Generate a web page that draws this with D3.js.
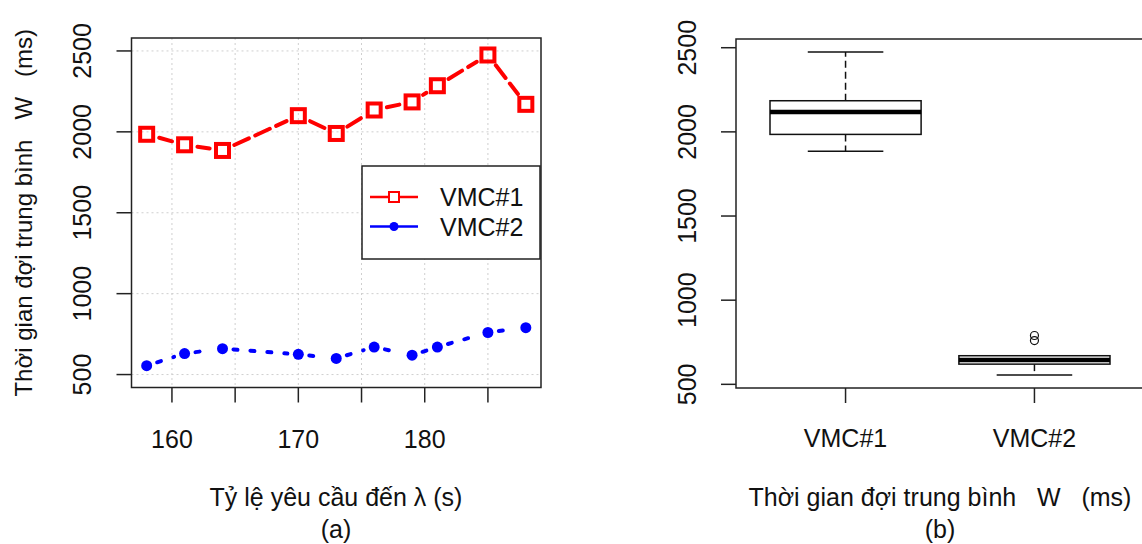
<!DOCTYPE html>
<html>
<head>
<meta charset="utf-8">
<script src="https://cdn.jsdelivr.net/npm/d3@7"></script>
<style>
  body { margin: 0; background: #fff; }
  svg { display: block; font-family: "Liberation Sans", Arial, sans-serif; }
  text { fill: #111; white-space: pre; }
</style>
</head>
<body>
<div id="chart"></div>
<script>
// Datos
const lambda = [158, 161, 164, 170, 173, 176, 179, 181, 185, 188];
const vmc1 = [1985, 1920, 1885, 2100, 1990, 2135, 2185, 2285, 2475, 2170];
const vmc2 = [555, 630, 660, 625, 600, 670, 620, 670, 760, 790];
const grupos = ["VMC#1", "VMC#2"];
const yTicks = [500, 1000, 1500, 2000, 2500];
const xTicks = [160, 165, 170, 175, 180, 185];
const xTickLabels = ["160", "", "170", "", "180", ""];
const tituloY = "Thời gian đợi trung bình   W   (ms)";
const tituloX = "Tỷ lệ yêu cầu đến λ (s)";

const width = 1142, height = 544;
const fs = 25;

const svg = d3.select("#chart").append("svg")
    .attr("width", width)
    .attr("height", height);

// ---------- Panel (a): líneas ----------
const x = d3.scaleLinear().domain([156.8, 189.2]).range([131.5, 541]);
const y = d3.scaleLinear().domain([420, 2580]).range([387.5, 38]);

const gA = svg.append("g");

// rejilla punteada
gA.selectAll(".gx").data(xTicks).enter().append("line")
    .attr("x1", d => x(d)).attr("x2", d => x(d))
    .attr("y1", y.range()[1]).attr("y2", y.range()[0])
    .attr("stroke", "#cfcfcf").attr("stroke-dasharray", "2,3");
gA.selectAll(".gy").data(yTicks).enter().append("line")
    .attr("x1", x.range()[0]).attr("x2", x.range()[1])
    .attr("y1", d => y(d)).attr("y2", d => y(d))
    .attr("stroke", "#cfcfcf").attr("stroke-dasharray", "2,3");

// segmentos con hueco alrededor de los puntos (tipo "b" de R)
function segmentos(xs, ys, gap) {
    const out = [];
    for (let i = 0; i < xs.length - 1; i++) {
        const x0 = x(xs[i]), y0 = y(ys[i]), x1 = x(xs[i + 1]), y1 = y(ys[i + 1]);
        const L = Math.hypot(x1 - x0, y1 - y0);
        if (L <= 2 * gap) continue;
        const ux = (x1 - x0) / L, uy = (y1 - y0) / L;
        out.push([x0 + ux * gap, y0 + uy * gap, x1 - ux * gap, y1 - uy * gap]);
    }
    return out;
}

gA.selectAll(".s1").data(segmentos(lambda, vmc1, 13)).enter().append("line")
    .attr("x1", d => d[0]).attr("y1", d => d[1]).attr("x2", d => d[2]).attr("y2", d => d[3])
    .attr("stroke", "#ff0000").attr("stroke-width", 4)
    .attr("stroke-linecap", "round").attr("stroke-dasharray", "16,7");

gA.selectAll(".s2").data(segmentos(lambda, vmc2, 11)).enter().append("line")
    .attr("x1", d => d[0]).attr("y1", d => d[1]).attr("x2", d => d[2]).attr("y2", d => d[3])
    .attr("stroke", "#0000ff").attr("stroke-width", 4)
    .attr("stroke-linecap", "round").attr("stroke-dasharray", "4,13");

gA.selectAll(".p1").data(lambda).enter().append("rect")
    .attr("x", (d, i) => x(d) - 6.5).attr("y", (d, i) => y(vmc1[i]) - 6.5)
    .attr("width", 13).attr("height", 13)
    .attr("fill", "none").attr("stroke", "#ff0000").attr("stroke-width", 4);

gA.selectAll(".p2").data(lambda).enter().append("circle")
    .attr("cx", d => x(d)).attr("cy", (d, i) => y(vmc2[i]))
    .attr("r", 5.5).attr("fill", "#0000ff");

// marco y ejes
gA.append("rect")
    .attr("x", x.range()[0]).attr("y", y.range()[1])
    .attr("width", x.range()[1] - x.range()[0]).attr("height", y.range()[0] - y.range()[1])
    .attr("fill", "none").attr("stroke", "#222").attr("stroke-width", 1.5);

gA.selectAll(".tx").data(xTicks).enter().append("line")
    .attr("x1", d => x(d)).attr("x2", d => x(d))
    .attr("y1", y.range()[0]).attr("y2", y.range()[0] + 15)
    .attr("stroke", "#222").attr("stroke-width", 1.5);
gA.selectAll(".lx").data(xTicks).enter().append("text")
    .attr("x", d => x(d)).attr("y", 448)
    .attr("text-anchor", "middle").attr("font-size", fs)
    .text((d, i) => xTickLabels[i]);

gA.selectAll(".ty").data(yTicks).enter().append("line")
    .attr("x1", x.range()[0] - 15).attr("x2", x.range()[0])
    .attr("y1", d => y(d)).attr("y2", d => y(d))
    .attr("stroke", "#222").attr("stroke-width", 1.5);
gA.selectAll(".ly").data(yTicks).enter().append("text")
    .attr("transform", d => `translate(91,${y(d)}) rotate(-90)`)
    .attr("text-anchor", "middle").attr("font-size", fs)
    .text(d => d);

gA.append("text")
    .attr("transform", `translate(32,${(y.range()[0] + y.range()[1]) / 2}) rotate(-90)`)
    .attr("text-anchor", "middle").attr("font-size", 24)
    .text(tituloY);
gA.append("text")
    .attr("x", 336).attr("y", 506).attr("text-anchor", "middle").attr("font-size", fs)
    .text(tituloX);
gA.append("text")
    .attr("x", 336).attr("y", 538).attr("text-anchor", "middle").attr("font-size", fs)
    .text("(a)");

// leyenda
const leg = gA.append("g").attr("transform", "translate(362,166)");
leg.append("rect").attr("width", 178).attr("height", 93)
    .attr("fill", "#fff").attr("stroke", "#222").attr("stroke-width", 1.5);
[["#ff0000", "rect"], ["#0000ff", "circle"]].forEach((c, i) => {
    const cy = 31 + i * 29.5;
    leg.append("line").attr("x1", 8).attr("x2", 56).attr("y1", cy).attr("y2", cy)
        .attr("stroke", c[0]).attr("stroke-width", 2.5);
    if (c[1] === "rect") {
        leg.append("rect").attr("x", 27).attr("y", cy - 5).attr("width", 10).attr("height", 10)
            .attr("fill", "#fff").attr("stroke", c[0]).attr("stroke-width", 2);
    } else {
        leg.append("circle").attr("cx", 32).attr("cy", cy).attr("r", 4.5).attr("fill", c[0]);
    }
    leg.append("text").attr("x", 78).attr("y", cy + 9)
        .attr("font-size", fs).text(grupos[i]);
});

// ---------- Panel (b): diagrama de caja ----------
function fivenum(v) {
    const s = v.slice().sort(d3.ascending), n = s.length;
    const n4 = Math.floor((n + 3) / 2) / 2;
    const idx = [1, n4, (n + 1) / 2, n + 1 - n4, n];
    return idx.map(k => 0.5 * (s[Math.floor(k) - 1] + s[Math.ceil(k) - 1]));
}
function statsCaja(v) {
    const f = fivenum(v), iqr = f[3] - f[1];
    const lo = f[1] - 1.5 * iqr, hi = f[3] + 1.5 * iqr;
    const dentro = v.filter(d => d >= lo && d <= hi);
    return {
        q1: f[1], med: f[2], q3: f[3],
        wlo: d3.min(dentro), whi: d3.max(dentro),
        out: v.filter(d => d < lo || d > hi)
    };
}
const cajas = [statsCaja(vmc1), statsCaja(vmc2)];
const todos = vmc1.concat(vmc2);
const [mn, mx] = d3.extent(todos);
const ext = (mx - mn) * 0.04;

const xb = d3.scaleLinear().domain([0.42, 2.58]).range([736, 1144]);
const yb = d3.scaleLinear().domain([mn - ext, mx + ext]).range([388, 39]);

const gB = svg.append("g");
cajas.forEach((c, i) => {
    const cx = xb(i + 1), hw = xb(1.4) - xb(1), sw = hw / 2;
    gB.append("line").attr("x1", cx).attr("x2", cx).attr("y1", yb(c.q3)).attr("y2", yb(c.whi))
        .attr("stroke", "#111").attr("stroke-width", 1.5).attr("stroke-dasharray", "7,4");
    gB.append("line").attr("x1", cx).attr("x2", cx).attr("y1", yb(c.q1)).attr("y2", yb(c.wlo))
        .attr("stroke", "#111").attr("stroke-width", 1.5).attr("stroke-dasharray", "7,4");
    [c.whi, c.wlo].forEach(w => gB.append("line")
        .attr("x1", cx - sw).attr("x2", cx + sw).attr("y1", yb(w)).attr("y2", yb(w))
        .attr("stroke", "#111").attr("stroke-width", 1.5));
    gB.append("rect").attr("x", cx - hw).attr("y", yb(c.q3))
        .attr("width", 2 * hw).attr("height", yb(c.q1) - yb(c.q3))
        .attr("fill", "#fff").attr("stroke", "#111").attr("stroke-width", 1.5);
    gB.append("line").attr("x1", cx - hw).attr("x2", cx + hw).attr("y1", yb(c.med)).attr("y2", yb(c.med))
        .attr("stroke", "#000").attr("stroke-width", 4.5);
    c.out.forEach(o => gB.append("circle").attr("cx", cx).attr("cy", yb(o)).attr("r", 4)
        .attr("fill", "none").attr("stroke", "#111").attr("stroke-width", 1.2));
});

gB.append("rect")
    .attr("x", xb.range()[0]).attr("y", yb.range()[1])
    .attr("width", xb.range()[1] - xb.range()[0]).attr("height", yb.range()[0] - yb.range()[1])
    .attr("fill", "none").attr("stroke", "#222").attr("stroke-width", 1.5);

gB.selectAll(".ty").data(yTicks).enter().append("line")
    .attr("x1", xb.range()[0] - 15).attr("x2", xb.range()[0])
    .attr("y1", d => yb(d)).attr("y2", d => yb(d))
    .attr("stroke", "#222").attr("stroke-width", 1.5);
gB.selectAll(".ly").data(yTicks).enter().append("text")
    .attr("transform", d => `translate(696,${yb(d)}) rotate(-90)`)
    .attr("text-anchor", "middle").attr("font-size", fs)
    .text(d => d);
gB.selectAll(".tx").data(grupos).enter().append("line")
    .attr("x1", (d, i) => xb(i + 1)).attr("x2", (d, i) => xb(i + 1))
    .attr("y1", yb.range()[0]).attr("y2", yb.range()[0] + 15)
    .attr("stroke", "#222").attr("stroke-width", 1.5);
gB.selectAll(".lx").data(grupos).enter().append("text")
    .attr("x", (d, i) => xb(i + 1)).attr("y", 447)
    .attr("text-anchor", "middle").attr("font-size", fs)
    .text(d => d);

gB.append("text")
    .attr("x", 940).attr("y", 506).attr("text-anchor", "middle").attr("font-size", fs)
    .text(tituloY);
gB.append("text")
    .attr("x", 940).attr("y", 538).attr("text-anchor", "middle").attr("font-size", fs)
    .text("(b)");
</script>
</body>
</html>
